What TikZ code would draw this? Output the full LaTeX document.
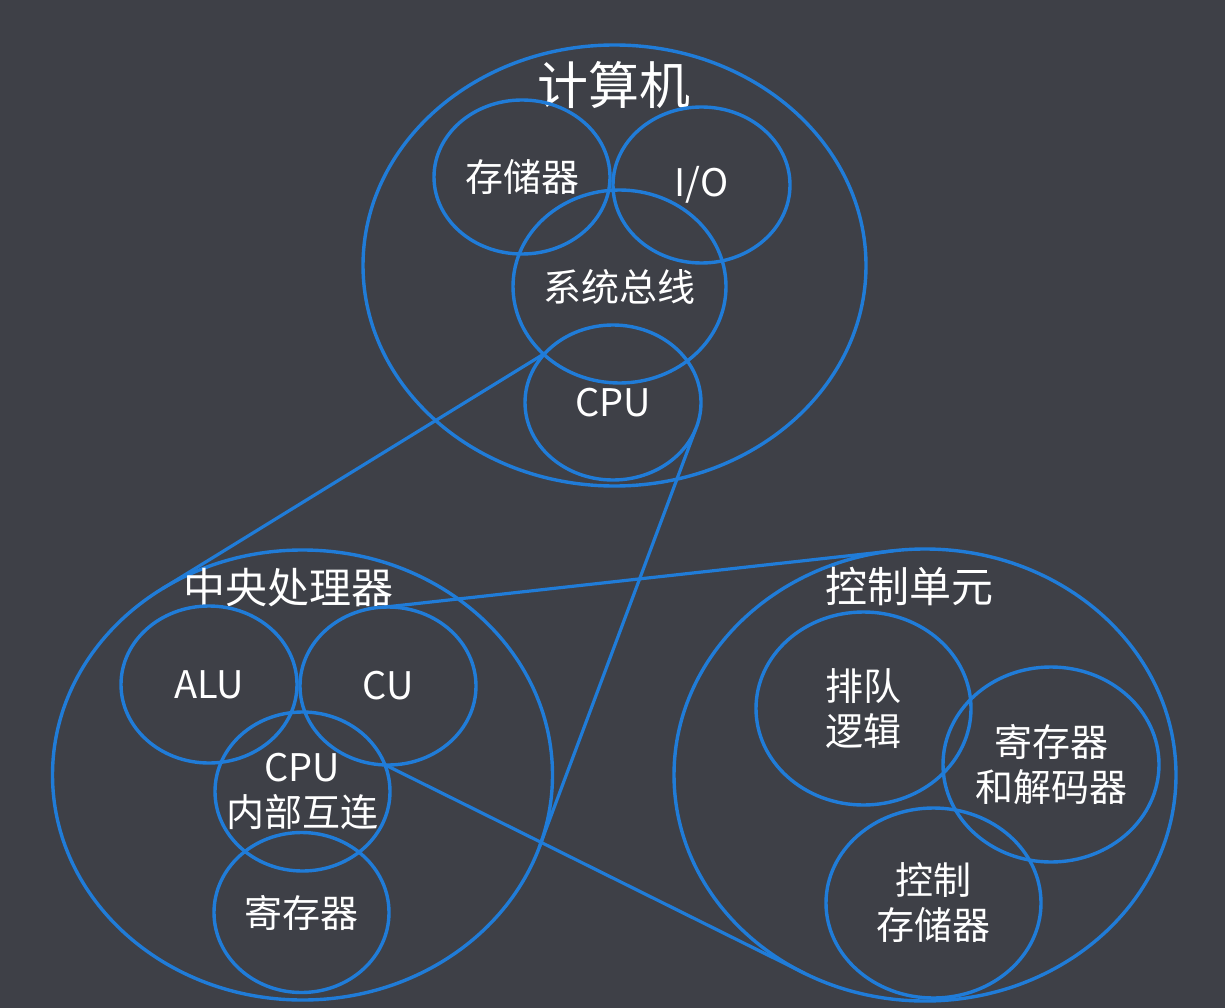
\documentclass[tikz,border=0pt]{standalone}
\usepackage{fontspec}
\setmainfont{Noto Sans CJK SC}
\usetikzlibrary{shapes.geometric}
\definecolor{bgc}{RGB}{62,64,71}
\definecolor{blu}{RGB}{32,124,216}
\begin{document}
\begin{tikzpicture}[x=1pt,y=-1pt,
  ell/.style={ellipse, draw=blu, line width=3.4pt, inner sep=0pt, outer sep=0pt},
  lbl/.style={text=white, inner sep=0pt, align=center, font=\fontsize{38}{45}\selectfont},
  ttl/.style={text=white, inner sep=0pt, font=\fontsize{42}{50}\selectfont},
  conn/.style={draw=blu, line width=3.2pt}]
\fill[bgc] (0,0) rectangle (1225,1008);
\useasboundingbox (0,0) rectangle (1225,1008);

% top: computer
\node[ell, minimum width=503, minimum height=441] (comp) at (614.5,265.5) {};
\node[text=white, inner sep=0pt, font=\fontsize{51}{60}\selectfont] (tcomp) at (614,85) {计算机};
\node[ell, minimum width=176, minimum height=154] (mem) at (522,177) {};
\node[lbl] (tmem) at (mem.center) {存储器};
\node[ell, minimum width=177, minimum height=156] (io) at (701.5,185) {};
\node[lbl] (tio) at (io.center) {I/O};
\node[ell, minimum width=213, minimum height=193] (bus) at (619.5,286.5) {};
\node[lbl] (tbus) at (bus.center) {系统总线};
\node[ell, minimum width=176, minimum height=155] (cpu) at (613,402.5) {};
\node[lbl] (tcpu) at (cpu.center) {CPU};

% bottom left: CPU
\node[ell, minimum width=500, minimum height=450] (cpubig) at (302.5,775) {};
\node[ttl] (tcpubig) at (288.5,587.5) {中央处理器};
\node[ell, minimum width=176, minimum height=157] (alu) at (209,684.5) {};
\node[lbl] (talu) at (alu.center) {ALU};
\node[ell, minimum width=176, minimum height=158] (cu) at (388,686) {};
\node[lbl] (tcu) at (cu.center) {CU};
\node[ell, minimum width=175, minimum height=159] (icn) at (302.5,791.5) {};
\node[lbl] (ticn) at (icn.center) {CPU\\内部互连};
\node[ell, minimum width=175, minimum height=160] (reg) at (301.5,912.5) {};
\node[lbl] (treg) at (reg.center) {寄存器};

% bottom right: control unit
\node[ell, minimum width=502, minimum height=452] (cubig) at (925,775) {};
\node[ttl] (tcubig) at (909.5,586) {控制单元};
\node[ell, minimum width=215, minimum height=193] (seq) at (863.5,708.5) {};
\node[lbl] (tseq) at (seq.center) {排队\\逻辑};
\node[ell, minimum width=216, minimum height=195] (dec) at (1051,764.5) {};
\node[lbl] (tdec) at (dec.center) {寄存器\\和解码器};
\node[ell, minimum width=215, minimum height=190] (cmem) at (933.5,903) {};
\node[lbl] (tcmem) at (cmem.center) {控制\\存储器};

% zoom connectors
\draw[conn] (cpu.144) -- (cpubig.127);
\draw[conn] (cpu.-18) -- (cpubig.-17);
\draw[conn] (cu.92) -- (cubig.98);
\draw[conn] (icn.18) -- (cubig.-121);
\end{tikzpicture}
\end{document}
